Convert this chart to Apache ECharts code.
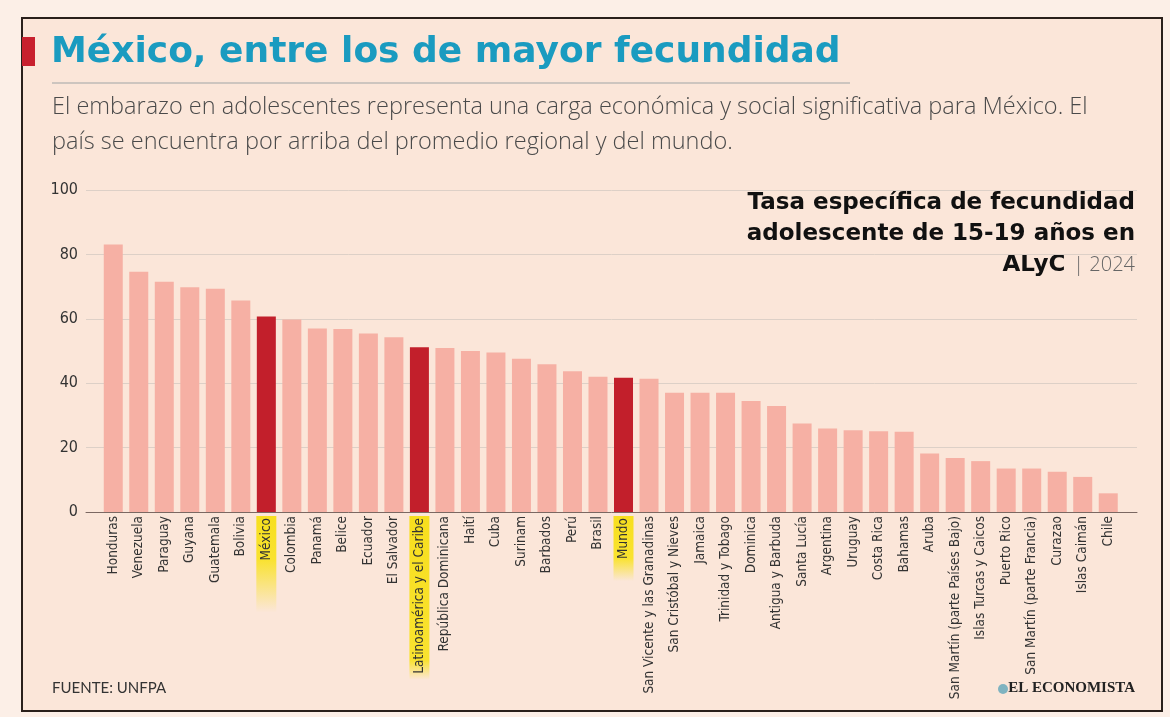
<!DOCTYPE html>
<html>
<head>
<meta charset="utf-8">
<script src="https://cdn.jsdelivr.net/npm/echarts@6/dist/echarts.min.js"></script>
<style>
  html, body { margin: 0; padding: 0; background: #fcefe7; }
</style>
</head>
<body>
<div id="main" style="width: 1170px; height: 717px;"></div>
<script>
const categories = [
  "Honduras", "Venezuela", "Paraguay", "Guyana", "Guatemala", "Bolivia", "México",
  "Colombia", "Panamá", "Belice", "Ecuador", "El Salvador", "Latinoamérica y el Caribe",
  "República Dominicana", "Haití", "Cuba", "Surinam", "Barbados", "Perú", "Brasil", "Mundo",
  "San Vicente y las Granadinas", "San Cristóbal y Nieves", "Jamaica", "Trinidad y Tobago",
  "Dominica", "Antigua y Barbuda", "Santa Lucía", "Argentina", "Uruguay", "Costa Rica",
  "Bahamas", "Aruba", "San Martín (parte Países Bajo)", "Islas Turcas y Caicos",
  "Puerto Rico", "San Martín (parte Francia)", "Curazao", "Islas Caimán", "Chile"
];
const values = [
  83.1, 74.6, 71.5, 69.8, 69.3, 65.7, 60.7,
  59.8, 57.0, 56.8, 55.4, 54.3, 51.2,
  50.9, 50.0, 49.5, 47.6, 45.9, 43.7, 42.0, 41.7,
  41.4, 37.0, 37.0, 37.0,
  34.5, 32.9, 27.5, 25.9, 25.4, 25.1,
  24.9, 18.2, 16.8, 15.8,
  13.5, 13.5, 12.5, 10.9, 5.8
];
const highlighted = ["México", "Latinoamérica y el Caribe", "Mundo"];
const yTicks = [0, 20, 40, 60, 80, 100];

const PINK = "#f6b0a4";
const RED = "#c21f2b";
const narrow = "'Liberation Sans Narrow', 'DejaVu Sans Condensed', sans-serif";

// yellow marker behind a label, fading out away from the axis
function glow(fadeEnd) {
  return new echarts.graphic.LinearGradient(0, 0, 1, 0, [
    { offset: 0, color: "rgba(249,226,38,0)" },
    { offset: fadeEnd, color: "rgba(249,226,38,0.95)" },
    { offset: 1, color: "#f7df1e" }
  ]);
}

const chart = echarts.init(document.getElementById("main"));

const option = {
  backgroundColor: "#fcefe7",
  animation: false,
  graphic: [
    {
      type: "rect", z: -10,
      shape: { x: 22, y: 18, width: 1140, height: 693 },
      style: { fill: "#fbe6d9", stroke: "#2a201b", lineWidth: 2 }
    },
    {
      type: "rect",
      shape: { x: 22, y: 37, width: 13, height: 29 },
      style: { fill: "#c8202e" }
    },
    {
      type: "text", x: 51, y: 35,
      style: { text: "México, entre los de mayor fecundidad", font: "bold 36px 'DejaVu Sans'", fill: "#1a9bc0" }
    },
    {
      type: "line",
      shape: { x1: 52, y1: 83, x2: 850, y2: 83 },
      style: { stroke: "#cdc5bf", lineWidth: 2 }
    },
    {
      type: "text", x: 52, y: 90,
      style: {
        text: "El embarazo en adolescentes representa una carga económica y social significativa para México. El\npaís se encuentra por arriba del promedio regional y del mundo.",
        font: "300 23.5px 'Open Sans'", fill: "#4a4a4a", lineHeight: 35
      }
    },
    {
      type: "text", x: 1135, y: 188,
      style: {
        text: "Tasa específica de fecundidad\nadolescente de 15-19 años en\n{b|ALyC} {l|| 2024}",
        font: "bold 23px 'DejaVu Sans'", fill: "#111", align: "right", lineHeight: 31,
        rich: {
          b: { font: "bold 23px 'DejaVu Sans'", fill: "#111" },
          l: { font: "300 20px 'Open Sans'", fill: "#666" }
        }
      }
    },
    {
      type: "text", x: 52, y: 681,
      style: { text: "FUENTE: UNFPA", font: "15px Lato", fill: "#333" }
    },
    {
      type: "circle",
      shape: { cx: 1003, cy: 689, r: 5 },
      style: { fill: "#7fb3c0" }
    },
    {
      type: "text", x: 1135, y: 681,
      style: { text: "EL ECONOMISTA", font: "bold 15px 'Liberation Serif', serif", fill: "#222", align: "right" }
    }
  ],
  grid: [
    { left: 86, width: 1051, top: 190, height: 322, outerBoundsMode: "none" },
    { left: 100.5, width: 1020.5, top: 190, height: 322, outerBoundsMode: "none" }
  ],
  xAxis: [
    {
      gridIndex: 0, type: "value", min: 0, max: 1,
      axisLine: { show: true, onZero: false, lineStyle: { color: "#7b6862", width: 1 } },
      axisTick: { show: false }, axisLabel: { show: false }, splitLine: { show: false }
    },
    {
      gridIndex: 1, type: "category", data: categories,
      axisLine: { show: false }, axisTick: { show: false },
      axisLabel: {
        rotate: 90, interval: 0, margin: 4, hideOverlap: false,
        fontFamily: narrow, fontSize: 13.5, color: "#333",
        formatter: function (v) {
          if (v === "México") return "{mx|" + v + "}";
          if (v === "Latinoamérica y el Caribe") return "{lac|" + v + "}";
          if (v === "Mundo") return "{mu|" + v + "}";
          return v;
        },
        rich: {
          mx: { fontFamily: narrow, fontSize: 13.5, color: "#333", backgroundColor: glow(0.55), padding: [3, 2, 3, 52] },
          lac: { fontFamily: narrow, fontSize: 13.5, color: "#333", backgroundColor: glow(0.12), padding: [3, 2, 3, 6] },
          mu: { fontFamily: narrow, fontSize: 13.5, color: "#333", backgroundColor: glow(0.35), padding: [3, 2, 3, 22] }
        }
      }
    }
  ],
  yAxis: [
    {
      gridIndex: 0, type: "value", min: yTicks[0], max: yTicks[yTicks.length - 1], interval: 20,
      axisLine: { show: false }, axisTick: { show: false },
      axisLabel: { margin: 8, fontFamily: narrow, fontSize: 16, color: "#333" },
      splitLine: { lineStyle: { color: "#ddd0c7", width: 1 } }
    },
    { gridIndex: 1, type: "value", min: 0, max: 100, show: false }
  ],
  series: [
    {
      type: "bar", xAxisIndex: 1, yAxisIndex: 1, barWidth: 19,
      data: values.map((v, i) => ({
        value: v,
        itemStyle: { color: highlighted.includes(categories[i]) ? RED : PINK }
      }))
    }
  ]
};

chart.setOption(option);
</script>
</body>
</html>
